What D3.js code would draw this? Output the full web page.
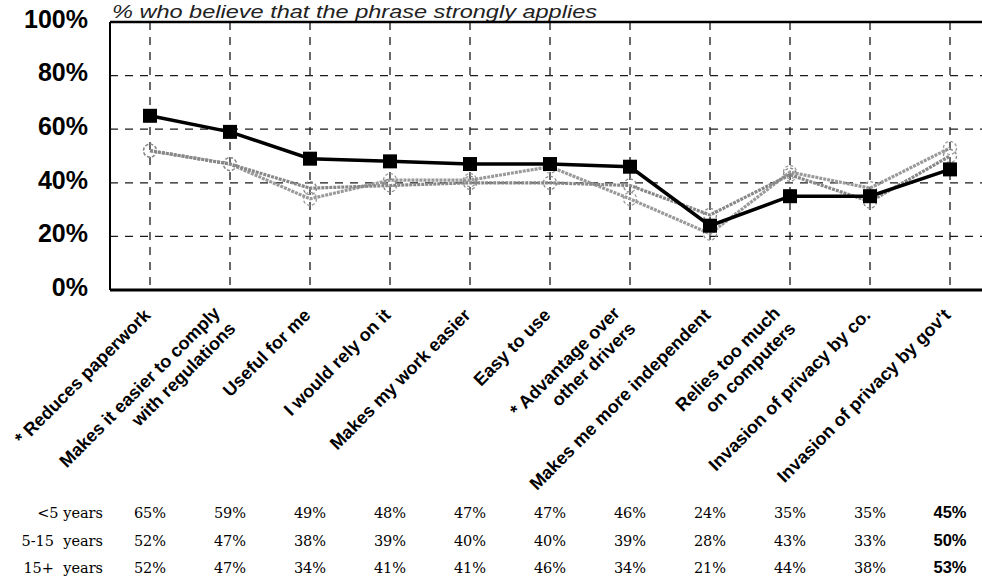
<!DOCTYPE html>
<html><head><meta charset="utf-8">
<script src="https://cdn.jsdelivr.net/npm/d3@7"></script>
<style>body{margin:0;background:#fff}svg{display:block}</style>
</head><body>
<svg id="c" width="982" height="579"></svg>
<script>
const categories = [
  ["* Reduces paperwork"],
  ["Makes it easier to comply", "with regulations"],
  ["Useful for me"],
  ["I would rely on it"],
  ["Makes my work easier"],
  ["Easy to use"],
  ["* Advantage over", "other drivers"],
  ["Makes me more independent"],
  ["Relies too much", "on computers"],
  ["Invasion of privacy by co."],
  ["Invasion of privacy by gov't"]
];
const seriesNames = ["<5 years", "5-15  years", "15+  years"];
const under5 = [65, 59, 49, 48, 47, 47, 46, 24, 35, 35, 45];
const from5to15 = [52, 47, 38, 39, 40, 40, 39, 28, 43, 33, 50];
const over15 = [52, 47, 34, 41, 41, 46, 34, 21, 44, 38, 53];
const yTicks = [0, 20, 40, 60, 80, 100];
const title = "% who believe that the phrase strongly applies";

const svg = d3.select("#c");
const keys = categories.map((c, i) => i);
const x = d3.scaleBand().domain(keys).range([110, 990]).padding(0);
const cx = i => x(i) + x.bandwidth() / 2;
const y = d3.scaleLinear().domain([0, 100]).range([290, 22]);

// title
svg.append("text").attr("x", 112).attr("y", 17.5)
  .attr("font-family", "Liberation Sans, Arial, sans-serif").attr("font-style", "italic")
  .attr("font-size", 18.5).attr("fill", "#222")
  .attr("textLength", 485).attr("lengthAdjust", "spacingAndGlyphs").text(title);

// grid
const grid = svg.append("g").attr("stroke", "#1a1a1a").attr("stroke-width", 1.3).attr("stroke-dasharray", "8,7");
grid.selectAll("line.h").data(yTicks.filter(t => t > 0 && t < 100)).join("line")
  .attr("x1", 110).attr("x2", 982).attr("y1", d => y(d)).attr("y2", d => y(d));
grid.selectAll("line.v").data(keys).join("line").attr("class", "v")
  .attr("x1", d => cx(d)).attr("x2", d => cx(d)).attr("y1", y(100)).attr("y2", y(0));

// frame
svg.append("line").attr("x1", 110).attr("x2", 982).attr("y1", y(100)).attr("y2", y(100)).attr("stroke", "#000").attr("stroke-width", 2.5);
svg.append("line").attr("x1", 110).attr("x2", 982).attr("y1", y(0)).attr("y2", y(0)).attr("stroke", "#000").attr("stroke-width", 3);
svg.append("line").attr("x1", 110).attr("x2", 110).attr("y1", y(100)).attr("y2", y(0)).attr("stroke", "#000").attr("stroke-width", 2);

// y axis labels
svg.append("g").selectAll("text").data(yTicks).join("text")
  .attr("x", 88).attr("y", d => y(d) - 3).attr("dy", "0.35em").attr("text-anchor", "end")
  .attr("font-family", "Liberation Sans, Arial, sans-serif").attr("font-weight", "bold")
  .attr("font-size", 25).attr("fill", "#000").text(d => d + "%");

// lines
const line = d3.line().x((d, i) => cx(i)).y(d => y(d));
function grayLine(data, color) {
  svg.append("path").datum(data).attr("d", line).attr("fill", "none")
    .attr("stroke", color).attr("stroke-width", 3.2).attr("stroke-dasharray", "3,1");
  svg.append("g").selectAll("circle").data(data).join("circle")
    .attr("cx", (d, i) => cx(i)).attr("cy", d => y(d)).attr("r", 6.5)
    .attr("fill", "none").attr("stroke", color).attr("stroke-width", 1.3).attr("stroke-dasharray", "3,2");
}
grayLine(over15, "#9a9a9a");
grayLine(from5to15, "#888");
svg.append("path").datum(under5).attr("d", line).attr("fill", "none")
  .attr("stroke", "#000").attr("stroke-width", 3.5);
svg.append("g").selectAll("rect").data(under5).join("rect")
  .attr("x", (d, i) => cx(i) - 7).attr("y", d => y(d) - 7).attr("width", 14).attr("height", 14).attr("fill", "#000");

// category labels
const lab = svg.append("g").attr("font-family", "Liberation Sans, Arial, sans-serif")
  .attr("font-weight", "bold").attr("font-size", 18).attr("fill", "#000");
categories.forEach((lines, i) => {
  const g = lab.append("g").attr("transform", `translate(${cx(i)},309) rotate(-45)`);
  const n = lines.length;
  lines.forEach((t, j) => {
    let ly = n === 1 ? 0 : (j === 0 ? -9 : 13);
    let lx = n === 1 ? -4 : -10;
    g.append("text").attr("x", lx).attr("y", ly).attr("dy", "0.35em")
      .attr("text-anchor", "end").text(t);
  });
});

// table
const rows = [under5, from5to15, over15];
const rowY = [518, 546, 573];
const tbl = svg.append("g");
rows.forEach((vals, r) => {
  tbl.append("text").attr("x", 103).attr("y", rowY[r]).attr("text-anchor", "end")
    .attr("font-family", "DejaVu Serif, serif").attr("font-size", 14.5)
    .attr("xml:space", "preserve").style("white-space", "pre").text(seriesNames[r]);
  tbl.selectAll(null).data(vals).join("text")
    .attr("x", (d, i) => cx(i)).attr("y", rowY[r]).attr("text-anchor", "middle")
    .attr("font-family", (d, i) => i === vals.length - 1 ? "Liberation Sans, Arial, sans-serif" : "DejaVu Serif, serif")
    .attr("font-weight", (d, i) => i === vals.length - 1 ? "bold" : "normal")
    .attr("font-size", (d, i) => i === vals.length - 1 ? 16.5 : 14.5)
    .text(d => d + "%");
});
</script>
</body></html>
